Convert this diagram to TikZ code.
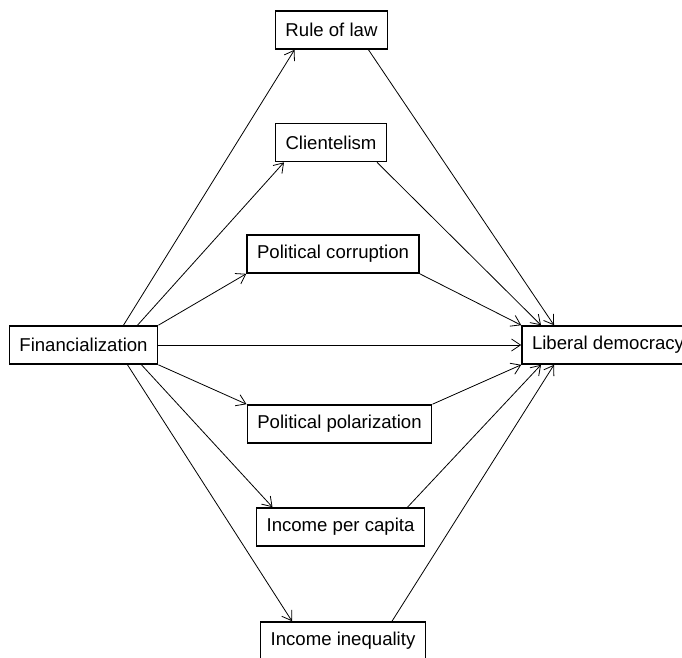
\documentclass[tikz,border=0pt]{standalone}
\usepackage{fontspec}
\setmainfont{Liberation Sans}
\usetikzlibrary{arrows.meta}

\begin{document}
\begin{tikzpicture}[x=1pt, y=-1pt,
  box/.style={draw,rectangle,line width=1.6pt,minimum height=38pt,inner xsep=10pt,font={\fontsize{18.6}{22}\selectfont}},
  link/.style={line width=0.8pt,-{Straight Barb[length=9pt,width=12pt,line width=0.8pt]}}]

\clip (0,0) rectangle (682,657);

\node[box] (fin) at (83.5,345) {Financialization};
\node[box] (lib) at (608,345) {Liberal democracy};

\node[box] (rule) at (331.5,30) {Rule of law};
\node[box] (client) at (331,142.5) {Clientelism};
\node[box] (corr) at (333,254) {Political corruption};
\node[box] (polar) at (339.5,424) {Political polarization};
\node[box] (capita) at (340.5,527) {Income per capita};
\node[box] (ineq) at (343,641) {Income inequality};

\draw[link] ([xshift=40pt]fin.north) -- ([xshift=-37pt]rule.south);
\draw[link] ([xshift=54pt]fin.north) -- ([xshift=-47pt]client.south);
\draw[link] (fin.north east) -- (corr.south west);
\draw[link] (fin.east) -- (lib.west);
\draw[link] (fin.south east) -- (polar.north west);
\draw[link] ([xshift=58pt]fin.south) -- ([xshift=-68pt]capita.north);
\draw[link] ([xshift=44pt]fin.south) -- ([xshift=-51pt]ineq.north);

\draw[link] ([xshift=37pt]rule.south) -- ([xshift=-54pt]lib.north);
\draw[link] ([xshift=46pt]client.south) -- ([xshift=-67pt]lib.north);
\draw[link] (corr.south east) -- (lib.north west);
\draw[link] (polar.north east) -- (lib.south west);
\draw[link] ([xshift=67pt]capita.north) -- ([xshift=-67pt]lib.south);
\draw[link] ([xshift=49pt]ineq.north) -- ([xshift=-54pt]lib.south);

\end{tikzpicture}
\end{document}
